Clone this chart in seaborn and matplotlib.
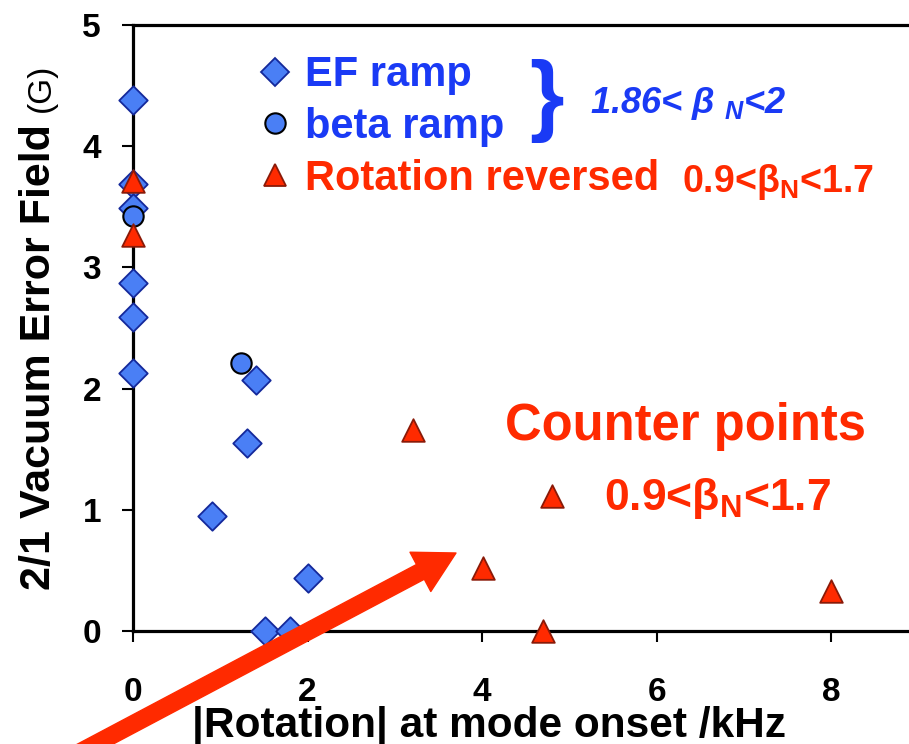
import numpy as np
import pandas as pd
import matplotlib
matplotlib.use("Agg")
import matplotlib.pyplot as plt
from matplotlib.lines import Line2D
import seaborn as sns

# ---------------- data ----------------
ef_x = [0, 0, 0, 0, 0, 0, 1.41, 1.31, 0.90, 1.51, 1.80, 2.00]
ef_y = [4.38, 3.69, 3.49, 2.87, 2.59, 2.13, 2.07, 1.55, 0.95, 0.0, 0.0, 0.44]
beta_x = [0, 1.24]
beta_y = [3.42, 2.21]
rot_x = [0, 0, 3.21, 4.80, 4.01, 4.70, 8.0]
rot_y = [3.71, 3.27, 1.66, 1.11, 0.52, 0.0, 0.33]
series_labels = ["EF ramp", "beta ramp", "Rotation reversed"]
x_ticks = [0, 2, 4, 6, 8]
y_ticks = [0, 1, 2, 3, 4, 5]

# ---------------- style ----------------
sns.set_theme(style="white")
plt.rcParams['font.family'] = ['Liberation Sans', 'DejaVu Sans']

BLUE_FILL = "#4a7ff5"
NAVY = "#14289a"
RED = "#ff2a00"
DARKRED = "#8a1a08"
BLUE_T = "#1a3af5"

W, H = 909, 744
fig = plt.figure(figsize=(W / 100, H / 100), dpi=100)
ax = fig.add_axes([133 / W, (H - 631) / H, 873 / W, 606 / H])


def fp(x, y):
    return (x / W, (H - y) / H)


df = pd.concat([
    pd.DataFrame({"rot": ef_x, "ef": ef_y, "series": series_labels[0]}),
    pd.DataFrame({"rot": beta_x, "ef": beta_y, "series": series_labels[1]}),
    pd.DataFrame({"rot": rot_x, "ef": rot_y, "series": series_labels[2]}),
], ignore_index=True)

specs = {
    series_labels[0]: dict(marker="D", s=210, color=BLUE_FILL, edgecolor=NAVY, lw=1.3),
    series_labels[1]: dict(marker="o", s=215, color=BLUE_FILL, edgecolor="black", lw=1.5),
    series_labels[2]: dict(marker="^", s=265, color=RED, edgecolor=DARKRED, lw=1.3),
}
for i, name in enumerate(series_labels):
    sp = specs[name]
    sns.scatterplot(data=df[df["series"] == name], x="rot", y="ef",
                    marker=sp["marker"], s=sp["s"], color=sp["color"],
                    edgecolor=sp["edgecolor"], linewidth=sp["lw"],
                    clip_on=False, zorder=3 + i, legend=False, ax=ax)

ax.set_xlim(0, 10)
ax.set_ylim(0, 5)
ax.set_xticks(x_ticks)
ax.set_yticks(y_ticks)
ax.set_xlabel("")
ax.set_ylabel("")
for s in ax.spines.values():
    s.set_color("black")
    s.set_linewidth(2.3)
ax.tick_params(axis="both", which="major", direction="out", length=8, width=1.5,
               color="black", labelsize=24, labelcolor="black")
ax.tick_params(axis="x", bottom=True, pad=25)
ax.tick_params(axis="y", left=True, pad=15)
for lab in ax.get_xticklabels() + ax.get_yticklabels():
    lab.set_fontweight("bold")

# legend
handles = []
for name in series_labels:
    sp = specs[name]
    handles.append(Line2D([], [], linestyle="none", marker=sp["marker"],
                          markersize=np.sqrt(sp["s"]), markerfacecolor=sp["color"],
                          markeredgecolor=sp["edgecolor"], markeredgewidth=sp["lw"]))
leg = ax.legend(handles, series_labels, loc="upper left",
                bbox_to_anchor=(0.1438, 0.950), frameon=False, borderpad=0,
                borderaxespad=0, handlelength=0.8, handletextpad=0.32,
                labelspacing=0.28, prop={"size": 30, "weight": "bold"},
                labelcolor=[BLUE_T, BLUE_T, RED])

# axis labels
fig.text(*fp(489, 737), "|Rotation| at mode onset /kHz", ha="center", va="baseline",
         fontsize=30.5, fontweight="bold", color="black")
fig.text(*fp(50, 590), "2/1 Vacuum Error Field", rotation=90, rotation_mode="anchor",
         ha="left", va="baseline", fontsize=31, fontweight="bold", color="black")
fig.text(*fp(50, 112), "(G)", rotation=90, rotation_mode="anchor",
         ha="left", va="baseline", fontsize=24, color="black")

# annotations
fig.text(*fp(529, 124), "}", ha="left", va="baseline", fontsize=64,
         fontweight="bold", color=BLUE_T)
fig.text(*fp(590, 113), "1.86< \u03b2 $_\\mathregular{N}$<2", ha="left", va="baseline",
         fontsize=26, fontweight="bold", fontstyle="italic", color=BLUE_T)
fig.text(*fp(682, 192), "0.9<\u03b2$_\\mathregular{N}$<1.7", ha="left", va="baseline",
         fontsize=27, fontweight="bold", color=RED)
fig.text(*fp(505, 440), "Counter points", ha="left", va="baseline",
         fontsize=36.5, fontweight="bold", color=RED)
fig.text(*fp(604, 510), "0.9<\u03b2$_\\mathregular{N}$<1.7", ha="left", va="baseline",
         fontsize=32, fontweight="bold", color=RED)

# arrow
ax.annotate("", xy=fp(456, 553), xycoords="figure fraction",
            xytext=fp(20, 784), textcoords="figure fraction",
            arrowprops=dict(arrowstyle="simple,head_length=1.45,head_width=1.6,tail_width=0.6",
                            mutation_scale=20, color=RED, shrinkA=0, shrinkB=0),
            annotation_clip=False, zorder=10)

fig.savefig("out.png", dpi=100)
